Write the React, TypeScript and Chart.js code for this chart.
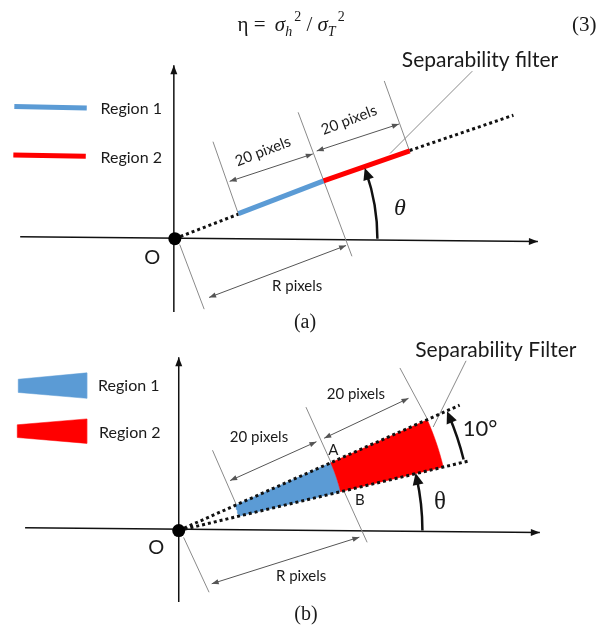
import React, { useEffect, useRef } from 'react';
import { Chart, registerables } from 'chart.js';
Chart.register(...registerables);

const W = 608;
const H = 636;
type P = { x: number; y: number };

// ---------- Panel (a) ----------
const originA: P[] = [{ x: 172, y: 237 }];
const axisHA: P[] = [{ x: 14, y: 235 }, { x: 543, y: 240 }];
const axisVA: P[] = [{ x: 171, y: 312 }, { x: 171, y: 60 }];
const dottedA1: P[] = [{ x: 172, y: 237 }, { x: 237, y: 212 }];
const dottedA2: P[] = [{ x: 412, y: 147 }, { x: 518, y: 111 }];
const region1A: P[] = [{ x: 237, y: 211.5 }, { x: 324, y: 178 }];
const region2A: P[] = [{ x: 324, y: 178 }, { x: 412, y: 147.5 }];
const ticksA: P[][] = [
  [{ x: 177, y: 243 }, { x: 202, y: 309 }],
  [{ x: 211, y: 138 }, { x: 237, y: 212 }],
  [{ x: 298, y: 108 }, { x: 353, y: 255 }],
  [{ x: 386, y: 76 }, { x: 412, y: 148 }],
];
const arrowsA: P[][] = [
  [{ x: 228, y: 178.5 }, { x: 313, y: 150.5 }],
  [{ x: 317, y: 147.5 }, { x: 401, y: 120 }],
  [{ x: 207, y: 297 }, { x: 347, y: 244 }],
];
const leaderA: P[] = [{ x: 476, y: 66 }, { x: 392, y: 150 }];
const legendLineA1: P[] = [{ x: 8, y: 102 }, { x: 82, y: 103.5 }];
const legendLineA2: P[] = [{ x: 7, y: 151.5 }, { x: 81, y: 153 }];
// arc: centre, radius, start/end angle (deg)
const thetaArcA = { cx: 172, cy: 237, r: 207, a0: 0, a1: 19 };

// ---------- Panel (b) ----------
const originB: P[] = [{ x: 176, y: 535 }];
const axisHB: P[] = [{ x: 19, y: 532 }, { x: 545, y: 537 }];
const axisVB: P[] = [{ x: 176, y: 608 }, { x: 176, y: 358 }];
const dottedBUpper: P[] = [{ x: 176, y: 535 }, { x: 463, y: 407 }];
const dottedBLower: P[] = [{ x: 176, y: 535 }, { x: 472, y: 464 }];
// sector: radii and angles (deg)
const wedgeAngles = [13.5, 24];
const region1Radii = [63, 170];
const region2Radii = [170, 278];
const ticksB: P[][] = [
  [{ x: 181, y: 542 }, { x: 207, y: 598 }],
  [{ x: 210.5, y: 453 }, { x: 235, y: 509 }],
  [{ x: 306, y: 409 }, { x: 368.5, y: 547 }],
  [{ x: 402, y: 369 }, { x: 431, y: 423 }],
];
const arrowsB: P[][] = [
  [{ x: 228.5, y: 484 }, { x: 316.7, y: 444.3 }],
  [{ x: 324.6, y: 440.7 }, { x: 410.8, y: 400 }],
  [{ x: 209.7, y: 589.3 }, { x: 360.6, y: 541.7 }],
];
const leaderB: P[] = [{ x: 469.6, y: 361.7 }, { x: 436, y: 429.3 }];
const legendWedgeB1: P[] = [{ x: 12, y: 380.5 }, { x: 82, y: 374 }, { x: 82, y: 400 }, { x: 12, y: 394 }, { x: 12, y: 380.5 }];
const legendWedgeB2: P[] = [{ x: 11, y: 427 }, { x: 82, y: 421 }, { x: 82, y: 446 }, { x: 11, y: 440 }, { x: 11, y: 427 }];
const thetaArcB = { cx: 176, cy: 535, r: 249, a0: 0, a1: 12.5 };
const tenArcB = { cx: 176, cy: 535, r: 300, a0: 14, a1: 23 };

// ---------- Text ----------
const SANS = 'Lato, "Open Sans", "Noto Sans", sans-serif';
const SERIF = '"Liberation Serif", "DejaVu Serif", serif';
type Label = { text: string; x: number; y: number; size: number; family?: string; style?: string; rot?: number; align?: CanvasTextAlign };
const labels: Label[] = [
  { text: 'Region 1', x: 96, y: 104, size: 16, align: 'left' },
  { text: 'Region 2', x: 96, y: 154, size: 16, align: 'left' },
  { text: '20 pixels', x: 262, y: 148, size: 15, rot: -21 },
  { text: '20 pixels', x: 350, y: 116, size: 15, rot: -21 },
  { text: 'Separability filter', x: 404, y: 55, size: 21, align: 'left' },
  { text: 'θ', x: 402, y: 206, size: 24, family: SERIF, style: 'italic' },
  { text: 'O', x: 149, y: 256, size: 20 },
  { text: 'R pixels', x: 297, y: 286, size: 15 },
  { text: '(a)', x: 305, y: 323, size: 20, family: SERIF },
  { text: 'Region 1', x: 125, y: 387, size: 16 },
  { text: 'Region 2', x: 126, y: 435, size: 16 },
  { text: '20 pixels', x: 357, y: 396, size: 15 },
  { text: '20 pixels', x: 258, y: 440, size: 15 },
  { text: 'A', x: 334, y: 453, size: 15 },
  { text: 'B', x: 361, y: 504, size: 15 },
  { text: 'θ', x: 443, y: 506, size: 25, family: SERIF },
  { text: '10°', x: 484, y: 431, size: 22 },
  { text: 'R pixels', x: 301, y: 582, size: 15 },
  { text: 'Separability Filter', x: 500, y: 351, size: 21 },
  { text: 'O', x: 153, y: 552, size: 20 },
  { text: '(b)', x: 306, y: 621, size: 20, family: SERIF },
];
const equationNumber = '(3)';

function sector(c: P, r0: number, r1: number, a0: number, a1: number): P[] {
  const pts: P[] = [];
  const n = 8;
  const rad = (d: number) => (d * Math.PI) / 180;
  for (let i = 0; i <= n; i++) {
    const a = rad(a0 + ((a1 - a0) * i) / n);
    pts.push({ x: c.x + r0 * Math.cos(a), y: c.y - r0 * Math.sin(a) });
  }
  for (let i = n; i >= 0; i--) {
    const a = rad(a0 + ((a1 - a0) * i) / n);
    pts.push({ x: c.x + r1 * Math.cos(a), y: c.y - r1 * Math.sin(a) });
  }
  pts.push(pts[0]);
  return pts;
}

const BLUE = '#5b9bd5';
const RED = '#ff0000';
const INK = '#111111';
const THIN = '#555555';
const TICK = '#8a8a8a';

function buildDatasets() {
  const list: any[] = [];
  const line = (data: P[], color: string, width: number, dash: number[] = []) =>
    list.push({ data, showLine: true, borderColor: color, borderWidth: width, borderDash: dash, pointRadius: 0, fill: false, borderCapStyle: 'butt' });
  const poly = (data: P[], color: string) =>
    list.push({ data, showLine: true, borderColor: color, borderWidth: 0.5, backgroundColor: color, pointRadius: 0, fill: 'shape' });

  // panel a
  line(axisHA, INK, 1.5);
  line(axisVA, INK, 1.5);
  ticksA.forEach((t) => line(t, TICK, 1));
  arrowsA.forEach((a) => line(a, THIN, 1));
  line(leaderA, TICK, 1);
  line(dottedA1, INK, 3, [3, 3]);
  line(dottedA2, INK, 3, [3, 3]);
  line(region1A, BLUE, 5);
  line(region2A, RED, 5);
  line(legendLineA1, BLUE, 5);
  line(legendLineA2, RED, 5);
  // panel b
  line(axisHB, INK, 1.5);
  line(axisVB, INK, 1.5);
  ticksB.forEach((t) => line(t, TICK, 1));
  arrowsB.forEach((a) => line(a, THIN, 1));
  line(leaderB, TICK, 1);
  poly(sector(originB[0], region1Radii[0], region1Radii[1], wedgeAngles[0], wedgeAngles[1]), BLUE);
  poly(sector(originB[0], region2Radii[0], region2Radii[1], wedgeAngles[0], wedgeAngles[1]), RED);
  poly(legendWedgeB1, BLUE);
  poly(legendWedgeB2, RED);
  line(dottedBUpper, INK, 3, [3, 3]);
  line(dottedBLower, INK, 3, [3, 3]);
  // origin dots
  list.push({ data: originA, pointRadius: 6.5, pointBackgroundColor: '#000', pointBorderWidth: 0, showLine: false });
  list.push({ data: originB, pointRadius: 6.5, pointBackgroundColor: '#000', pointBorderWidth: 0, showLine: false });
  const n = list.length;
  list.forEach((d, i) => (d.order = n - i));
  return list;
}

const diagramPlugin = {
  id: 'diagram',
  afterDatasetsDraw(chart: any) {
    const ctx: CanvasRenderingContext2D = chart.ctx;
    const xs = chart.scales.x;
    const ys = chart.scales.y;
    const px = (p: P) => ({ x: xs.getPixelForValue(p.x), y: ys.getPixelForValue(p.y) });
    const unit = xs.getPixelForValue(1) - xs.getPixelForValue(0);

    const head = (tipD: P, fromD: P, len: number, half: number, color: string) => {
      const tip = px(tipD);
      const from = px(fromD);
      const dx = tip.x - from.x;
      const dy = tip.y - from.y;
      const L = Math.hypot(dx, dy) || 1;
      const ux = dx / L, uy = dy / L;
      const bx = tip.x - ux * len, by = tip.y - uy * len;
      ctx.beginPath();
      ctx.moveTo(tip.x, tip.y);
      ctx.lineTo(bx - uy * half, by + ux * half);
      ctx.lineTo(bx + uy * half, by - ux * half);
      ctx.closePath();
      ctx.fillStyle = color;
      ctx.fill();
    };

    ctx.save();
    // axis arrowheads
    head(axisHA[1], axisHA[0], 9, 3.5, INK);
    head(axisVA[1], axisVA[0], 9, 3.5, INK);
    head(axisHB[1], axisHB[0], 9, 3.5, INK);
    head(axisVB[1], axisVB[0], 9, 3.5, INK);
    // dimension arrows (double headed)
    [...arrowsA, ...arrowsB].forEach((a) => {
      head(a[0], a[1], 7, 2.6, THIN);
      head(a[1], a[0], 7, 2.6, THIN);
    });

    // arcs with arrowheads
    const arc = (a: { cx: number; cy: number; r: number; a0: number; a1: number }) => {
      const c = px({ x: a.cx, y: a.cy });
      const r = a.r * unit;
      const r0 = (a.a0 * Math.PI) / 180;
      const r1 = (a.a1 * Math.PI) / 180;
      ctx.beginPath();
      ctx.arc(c.x, c.y, r, -r0, -r1, true);
      ctx.strokeStyle = INK;
      ctx.lineWidth = 2.5;
      ctx.stroke();
      const tx = c.x + r * Math.cos(r1);
      const ty = c.y - r * Math.sin(r1);
      const ux = -Math.sin(r1);
      const uy = -Math.cos(r1);
      const tipx = tx + ux * 5, tipy = ty + uy * 5;
      const len = 12, half = 5.5;
      const bx = tipx - ux * len, by = tipy - uy * len;
      ctx.beginPath();
      ctx.moveTo(tipx, tipy);
      ctx.lineTo(bx - uy * half, by + ux * half);
      ctx.lineTo(bx + uy * half, by - ux * half);
      ctx.closePath();
      ctx.fillStyle = INK;
      ctx.fill();
    };
    arc(thetaArcA);
    arc(thetaArcB);
    arc(tenArcB);

    // labels
    ctx.fillStyle = '#1a1a1a';
    ctx.textBaseline = 'middle';
    labels.forEach((l) => {
      const p = px({ x: l.x, y: l.y });
      ctx.save();
      ctx.translate(p.x, p.y);
      if (l.rot) ctx.rotate((l.rot * Math.PI) / 180);
      ctx.font = `${l.style || 'normal'} ${l.size}px ${l.family || SANS}`;
      ctx.textAlign = l.align || 'center';
      ctx.fillText(l.text, 0, 0);
      ctx.restore();
    });

    // equation
    const base = px({ x: 0, y: 25 }).y;
    let cx = px({ x: 236, y: 0 }).x;
    const put = (t: string, font: string, dy = 0) => {
      ctx.font = font;
      ctx.textAlign = 'left';
      ctx.textBaseline = 'alphabetic';
      ctx.fillText(t, cx, base + dy);
      cx += ctx.measureText(t).width;
    };
    const up = `normal 21px ${SERIF}`;
    const it = `italic 21px ${SERIF}`;
    const sub = `italic 14px ${SERIF}`;
    const sup = `normal 14px ${SERIF}`;
    put('η = ', up);
    cx += 4;
    put('σ', it);
    const s1 = cx;
    put('h', sub, 5);
    cx = s1 + 9;
    put('2', sup, -10);
    put(' / ', up);
    put('σ', it);
    const s2 = cx;
    put('T', sub, 5);
    cx = s2 + 10;
    put('2', sup, -10);
    ctx.font = up;
    ctx.textAlign = 'right';
    ctx.fillText(equationNumber, px({ x: 603, y: 0 }).x, base);
    ctx.restore();
  },
};

export default function App() {
  const ref = useRef<HTMLCanvasElement | null>(null);
  useEffect(() => {
    if (!ref.current) return;
    const chart = new Chart(ref.current, {
      type: 'scatter',
      data: { datasets: buildDatasets() },
      options: {
        responsive: false,
        animation: false,
        events: [],
        layout: { padding: 0 },
        plugins: { legend: { display: false }, tooltip: { enabled: false } },
        elements: { line: { tension: 0 } },
        scales: {
          x: { type: 'linear', min: 0, max: W, display: false },
          y: { type: 'linear', min: 0, max: H, reverse: true, display: false },
        },
      },
      plugins: [diagramPlugin],
    } as any);
    return () => chart.destroy();
  }, []);
  return (
    <div style={{ position: 'fixed', left: 0, top: 0, width: W, height: H, background: '#fff' }}>
      <canvas ref={ref} width={W} height={H} style={{ display: 'block', width: W, height: H }} />
    </div>
  );
}
